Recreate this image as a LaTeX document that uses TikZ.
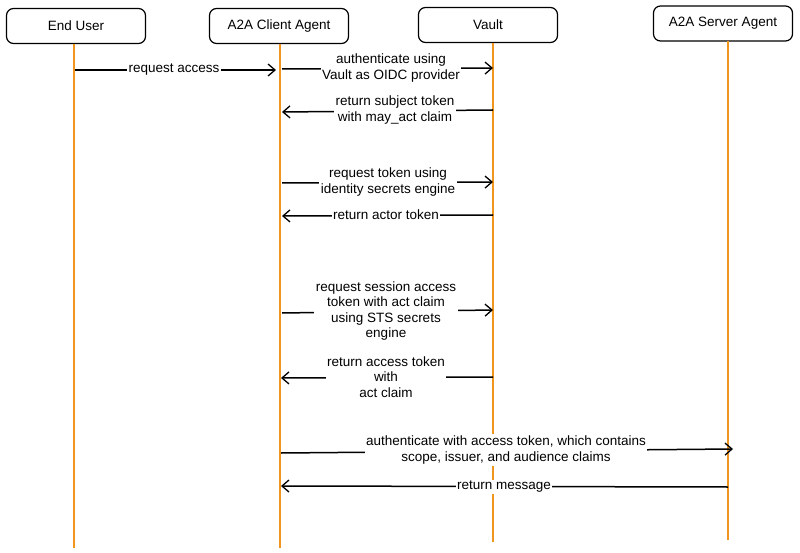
\documentclass[tikz,border=0pt]{standalone}
\usepackage{fontspec}
\setmainfont{Liberation Sans}
\usetikzlibrary{arrows.meta}
\definecolor{life}{RGB}{240,150,30}
\tikzset{
  actor/.style={draw=black, line width=1.2pt, rounded corners=7pt, fill=white,
    minimum width=139pt, minimum height=35pt, font=\fontsize{13.5}{15}\selectfont},
  lifeline/.style={draw=life, line width=1.4pt},
  msg/.style={draw=black, line width=1.5pt, -{Straight Barb[length=7pt,width=12pt,line width=1.3pt]}},
  lbl/.style={fill=white, inner sep=1.5pt, align=center, font=\fontsize{13.5}{15.5}\selectfont},
}
\begin{document}
\begin{tikzpicture}[x=1pt,y=-1pt]
\useasboundingbox (0,0) rectangle (800,553);
% actors
\node[actor] (eu) at (76,26) {End User};
\node[actor] (ca) at (279,26) {A2A Client Agent};
\node[actor] (va) at (488,25) {Vault};
\node[actor] (sa) at (723,23.5) {A2A Server Agent};
% lifeline ends
\coordinate (euT) at (74,44);  \coordinate (euB) at (74,548);
\coordinate (caT) at (280,44); \coordinate (caB) at (280,548);
\coordinate (vaT) at (493,43); \coordinate (vaB) at (493,542);
\coordinate (saT) at (728,41); \coordinate (saB) at (728,540);
\draw[lifeline] (euT) -- (euB);
\draw[lifeline] (caT) -- (caB);
\draw[lifeline] (vaT) -- (vaB);
\draw[lifeline] (saT) -- (saB);
% message anchor points
\coordinate (m1a) at (75,70);  \coordinate (m1b) at (276,70);
\coordinate (m2a) at (282,69); \coordinate (m2b) at (493,68);
\coordinate (m3a) at (493,110); \coordinate (m3b) at (282,112);
\coordinate (m4a) at (282,183); \coordinate (m4b) at (493,182);
\coordinate (m5a) at (493,215); \coordinate (m5b) at (282,216);
\coordinate (m6a) at (282,313); \coordinate (m6b) at (493,310);
\coordinate (m7a) at (493,377); \coordinate (m7b) at (281,378);
\coordinate (m8a) at (281,453); \coordinate (m8b) at (733,449);
\coordinate (m9a) at (728,487); \coordinate (m9b) at (281,486);
% messages
\draw[msg] (m1a) -- (m1b);
\node[lbl] (l1) at (174,70) {request access};
\draw[msg] (m2a) -- (m2b);
\node[lbl] (l2) at (391,68) {authenticate using\\Vault as OIDC provider};
\draw[msg] (m3a) -- (m3b);
\node[lbl] (l3) at (395,110) {return subject token\\with may\_act claim};
\draw[msg] (m4a) -- (m4b);
\node[lbl] (l4) at (388,182) {request token using\\identity secrets engine};
\draw[msg] (m5a) -- (m5b);
\node[lbl] (l5) at (386,215) {return actor token};
\draw[msg] (m6a) -- (m6b);
\node[lbl] (l6) at (386,311) {request session access\\token with act claim\\using STS secrets\\engine};
\draw[msg] (m7a) -- (m7b);
\node[lbl] (l7) at (386,377) {return access token\\with\\act claim};
\draw[msg] (m8a) -- (m8b);
\node[lbl] (l8) at (506,450) {authenticate with access token, which contains\\scope, issuer, and audience claims};
\draw[msg] (m9a) -- (m9b);
\node[lbl] (l9) at (504,487) {return message};
\end{tikzpicture}
\end{document}
